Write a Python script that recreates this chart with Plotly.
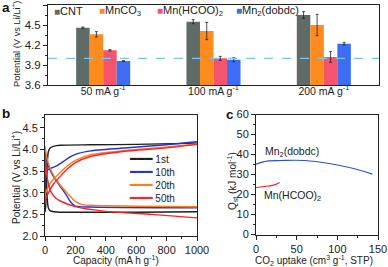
import plotly.graph_objects as go

# ---------------- Panel a data ----------------
rates = ["50 mA g<sup>-1</sup>", "100 mA g<sup>-1</sup>", "200 mA g<sup>-1</sup>"]
materials = ["CNT", "MnCO<sub>3</sub>", "Mn(HCOO)<sub>2</sub>", "Mn<sub>2</sub>(dobdc)"]
potential_cnt = [4.46, 4.55, 4.65]
potential_mnco3 = [4.36, 4.41, 4.50]
potential_hcoo = [4.12, 4.00, 4.02]
potential_dobdc = [3.96, 3.98, 4.22]
err_cnt = [0.01, 0.03, 0.05]
err_mnco3 = [0.04, 0.13, 0.16]
err_hcoo = [0.01, 0.03, 0.08]
err_dobdc = [0.005, 0.03, 0.02]
ref_potential = 4.0

# ---------------- Panel b data ----------------
cycles = ["1st", "10th", "20th", "50th"]
c1_charge_cap = [0, 5, 10, 15, 22, 35, 60, 100, 300, 600, 1000]
c1_charge_v = [2.55, 2.7, 3.2, 3.7, 3.95, 4.04, 4.08, 4.10, 4.11, 4.12, 4.15]
c1_dis_cap = [0, 5, 10, 15, 22, 35, 60, 100, 300, 600, 1000]
c1_dis_v = [4.0, 3.7, 3.2, 2.85, 2.65, 2.58, 2.56, 2.55, 2.55, 2.55, 2.56]

c10_charge_cap = [0, 5, 15, 40, 80, 120, 160, 200, 300, 500, 800, 1000]
c10_charge_v = [2.95, 3.35, 3.52, 3.57, 3.63, 3.72, 3.82, 3.89, 3.97, 4.03, 4.11, 4.18]
c10_dis_cap = [0, 10, 30, 60, 100, 140, 170, 200, 300, 1000]
c10_dis_v = [3.92, 3.75, 3.55, 3.35, 3.15, 2.95, 2.78, 2.69, 2.67, 2.65]

c20_charge_cap = [0, 10, 30, 60, 100, 150, 200, 300, 500, 800, 1000]
c20_charge_v = [2.95, 3.05, 3.2, 3.33, 3.47, 3.63, 3.75, 3.88, 3.97, 4.06, 4.13]
c20_dis_cap = [0, 10, 30, 60, 100, 150, 200, 240, 300, 600, 1000]
c20_dis_v = [4.08, 3.85, 3.6, 3.38, 3.18, 2.98, 2.80, 2.73, 2.71, 2.69, 2.68]

c50_charge_cap = [0, 10, 30, 60, 100, 150, 200, 300, 500, 800, 1000]
c50_charge_v = [2.75, 2.9, 3.05, 3.22, 3.38, 3.56, 3.70, 3.84, 3.95, 4.04, 4.12]
c50_dis_cap = [0, 8, 20, 40, 70, 100, 200, 400, 700, 1000]
c50_dis_v = [3.88, 3.55, 3.25, 3.02, 2.88, 2.81, 2.68, 2.57, 2.50, 2.42]

# ---------------- Panel c data ----------------
dobdc_uptake = [0, 8, 15, 30, 60, 90, 120, 143]
dobdc_qst = [35.2, 36.2, 36.8, 37.0, 37.0, 35.5, 33.0, 30.2]
hcoo_uptake = [0, 10, 20, 25, 29]
hcoo_qst = [23.5, 24.0, 24.6, 25.2, 26.0]

FONT = "Liberation Sans, Arial, sans-serif"
W, H = 388, 267


def px_x(a, b):
    return [a / W, b / W]


def px_y(top, bottom):
    return [1 - bottom / H, 1 - top / H]


fig = go.Figure()

# Panel a bars
bar_colors = ["#5f6b66", "#ff8a1e", "#f4546c", "#3d6df2"]
bar_sets = [
    (materials[0], potential_cnt, err_cnt, bar_colors[0]),
    (materials[1], potential_mnco3, err_mnco3, bar_colors[1]),
    (materials[2], potential_hcoo, err_hcoo, bar_colors[2]),
    (materials[3], potential_dobdc, err_dobdc, bar_colors[3]),
]
for name, vals, errs, col in bar_sets:
    fig.add_trace(go.Bar(
        x=rates, y=vals, name=name, marker=dict(color=col, line=dict(width=0)),
        error_y=dict(type="data", array=errs, color="#222", thickness=0.8, width=1.5),
        xaxis="x", yaxis="y", showlegend=False,
    ))

fig.add_shape(type="line", xref="x domain", yref="y", x0=0, x1=1,
              y0=ref_potential, y1=ref_potential,
              line=dict(color="#7cc6f2", width=1.2, dash="dash"))

# Panel b lines
cyc_colors = ["#1e1e1e", "#2233d6", "#ff7a1a", "#ff2222"]
cyc_data = [
    (cycles[0], c1_charge_cap, c1_charge_v, c1_dis_cap, c1_dis_v, cyc_colors[0]),
    (cycles[1], c10_charge_cap, c10_charge_v, c10_dis_cap, c10_dis_v, cyc_colors[1]),
    (cycles[2], c20_charge_cap, c20_charge_v, c20_dis_cap, c20_dis_v, cyc_colors[2]),
    (cycles[3], c50_charge_cap, c50_charge_v, c50_dis_cap, c50_dis_v, cyc_colors[3]),
]
for name, cc, cv, dc, dv, col in cyc_data:
    fig.add_trace(go.Scatter(
        x=list(cc) + [None] + list(dc), y=list(cv) + [None] + list(dv),
        mode="lines", name=name, line=dict(color=col, width=1.4, shape="spline", smoothing=0.6),
        connectgaps=False, xaxis="x2", yaxis="y2", showlegend=False,
    ))

# Panel c lines
fig.add_trace(go.Scatter(x=dobdc_uptake, y=dobdc_qst, mode="lines",
                         line=dict(color="#2a4fd8", width=1.2, shape="spline"),
                         showlegend=False, xaxis="x3", yaxis="y3"))
fig.add_trace(go.Scatter(x=hcoo_uptake, y=hcoo_qst, mode="lines",
                         line=dict(color="#ff2020", width=1.2, shape="spline"),
                         showlegend=False, xaxis="x3", yaxis="y3"))

axis_common = dict(showline=True, linecolor="#222", linewidth=1, mirror=True,
                   showgrid=False, zeroline=False, automargin=False,
                   ticks="outside", ticklen=4, tickwidth=1, tickcolor="#222")


def tf(size):
    return dict(family=FONT, size=size, color="#222")


fig.update_layout(
    width=W, height=H, margin=dict(l=0, r=0, t=0, b=0, autoexpand=False),
    paper_bgcolor="white", plot_bgcolor="white",
    bargap=0.51, bargroupgap=0, barmode="group",
    font=dict(family=FONT, color="#222"),
    showlegend=False,
    xaxis=dict(**{**axis_common, "ticks": ""}, domain=px_x(48, 379), anchor="y",
               tickfont=tf(10.5), ticklabelstandoff=-4),
    yaxis=dict(**axis_common, domain=px_y(5, 85), anchor="x", range=[3.6, 4.8],
               tickvals=[3.6, 3.9, 4.2, 4.5, 4.8], ticktext=["3.6", "3.9", "4.2", "4.5", "4.8"],
               tickfont=tf(11.5),
               minor=dict(dtick=0.15, ticks="outside", ticklen=2, tickcolor="#222")),
    xaxis2=dict(**axis_common, domain=px_x(45, 197), anchor="y2", range=[0, 1000], dtick=200,
                tickfont=tf(11),
                minor=dict(dtick=100, ticks="outside", ticklen=2, tickcolor="#222")),
    yaxis2=dict(**axis_common, domain=px_y(115, 236), anchor="x2", range=[2.0, 4.8],
                tickvals=[2.0, 2.5, 3.0, 3.5, 4.0, 4.5], ticktext=["2.0", "2.5", "3.0", "3.5", "4.0", "4.5"],
                tickfont=tf(11),
                minor=dict(dtick=0.25, ticks="outside", ticklen=2, tickcolor="#222")),
    xaxis3=dict(**axis_common, domain=px_x(256, 378), anchor="y3", range=[0, 150], dtick=50,
                tickfont=tf(11),
                minor=dict(dtick=25, ticks="outside", ticklen=2, tickcolor="#222")),
    yaxis3=dict(**axis_common, domain=px_y(114.5, 234.5), anchor="x3", range=[0, 60], dtick=10,
                tickfont=tf(11),
                minor=dict(dtick=5, ticks="outside", ticklen=2, tickcolor="#222")),
)


def ann(text, x, y, size=11, color="#222", family=FONT, xanchor="left", angle=0, align="left"):
    fig.add_annotation(text=text, x=x / W, y=1 - y / H, xref="paper", yref="paper",
                       xanchor=xanchor, yanchor="middle", showarrow=False, textangle=angle,
                       align=align, borderpad=0, font=dict(family=family, size=size, color=color))


# Axis titles
ann("Potential (V vs Li/Li<sup>+</sup>)", 16, 44, size=9.3, xanchor="center", angle=-90)
ann("Potential (V vs Li/Li<sup>+</sup>)", 16, 178, size=10, xanchor="center", angle=-90)
ann("Q<sub>st</sub> (kJ mol<sup>-1</sup>)", 232, 181, size=10, xanchor="center", angle=-90)
ann("Capacity (mA h g<sup>-1</sup>)", 116, 260, size=10, xanchor="center")
ann("CO<sub>2</sub> uptake (cm<sup>3</sup> g<sup>-1</sup>, STP)", 314, 260, size=10, xanchor="center")

# Panel a legend (key square + name in one text)
for name, col, sx in zip(materials, bar_colors, [53, 98, 156, 235]):
    ann(f"<span style='color:{col};font-size:10px'>■</span>{name}", sx, 11, size=11)

# Panel b legend (line keys + names, one block of four lines)
legend_b = "<br>".join(
    f"<span style='color:{col};font-family:DejaVu Sans;font-size:12.5px'>━━━</span> {name}"
    for name, col in zip(cycles, cyc_colors)
)
ann(legend_b, 128, 178, size=10)

# Panel labels
for txt, x, y in [("a", 1, 7.5), ("b", 1, 114), ("c", 225, 115)]:
    ann(f"<b>{txt}</b>", x, y, size=13.5, color="#111")

fig.add_annotation(text="Mn<sub>2</sub>(dobdc)", x=8, y=41.5, xref="x3", yref="y3",
                   xanchor="left", yanchor="middle", showarrow=False,
                   font=dict(family=FONT, size=10.5, color="#222"))
fig.add_annotation(text="Mn(HCOO)<sub>2</sub>", x=7, y=19.5, xref="x3", yref="y3",
                   xanchor="left", yanchor="middle", showarrow=False,
                   font=dict(family=FONT, size=10.5, color="#222"))

fig.write_html(
    "out.html",
    config={"staticPlot": True, "displayModeBar": False},
    post_script="document.documentElement.style.margin='0';document.body.style.margin='0';"
                "document.body.style.padding='0';document.body.style.overflow='hidden';",
)
